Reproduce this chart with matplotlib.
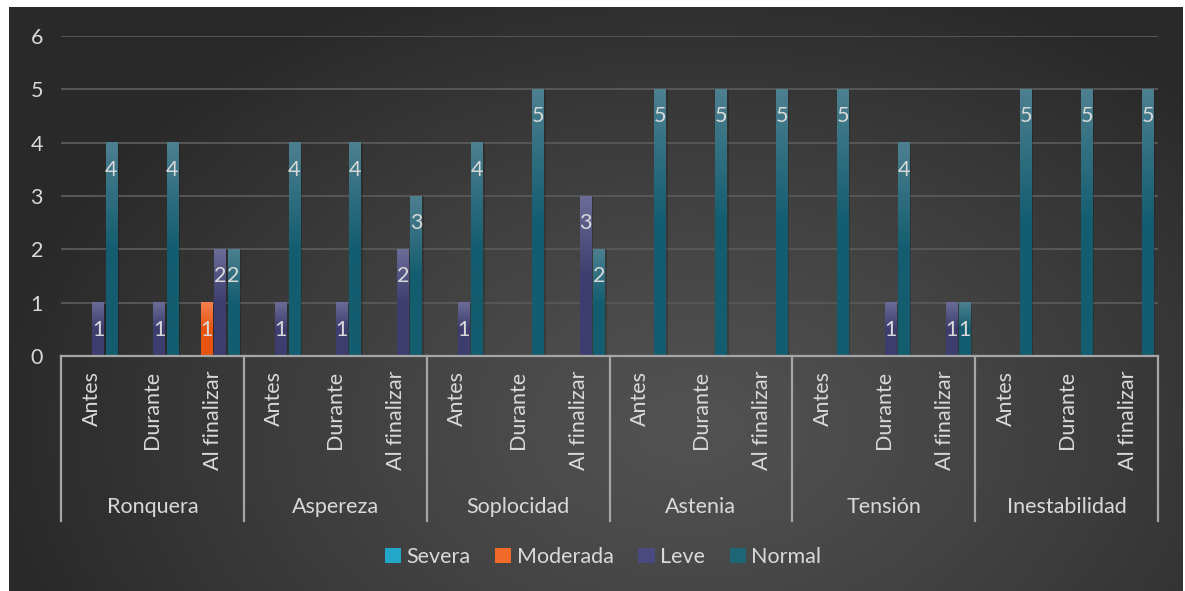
import numpy as np
import matplotlib
matplotlib.use("Agg")
import matplotlib.pyplot as plt
from matplotlib.colors import LinearSegmentedColormap, to_rgb
from matplotlib.patches import Rectangle, Patch
from matplotlib.transforms import blended_transform_factory

plt.rcParams['font.family'] = ['Lato', 'DejaVu Sans']

groups = ["Ronquera", "Aspereza", "Soplocidad", "Astenia", "Tensión", "Inestabilidad"]
moments = ["Antes", "Durante", "Al finalizar"]
series_names = ["Severa", "Moderada", "Leve", "Normal"]

severa   = [0, 0, 0,  0, 0, 0,  0, 0, 0,  0, 0, 0,  0, 0, 0,  0, 0, 0]
moderada = [0, 0, 1,  0, 0, 0,  0, 0, 0,  0, 0, 0,  0, 0, 0,  0, 0, 0]
leve     = [1, 1, 2,  1, 1, 2,  1, 0, 3,  0, 0, 0,  0, 1, 1,  0, 0, 0]
normal   = [4, 4, 2,  4, 4, 3,  4, 5, 2,  5, 5, 5,  5, 4, 1,  5, 5, 5]

series = [severa, moderada, leve, normal]
# (top colour, bottom colour) of each series' gradient fill
fills = [("#2cb3d6", "#1b93b5"),
         ("#f5804f", "#e65410"),
         ("#6c6c98", "#3d3d6f"),
         ("#4d8090", "#135d70")]
legend_colors = ["#22a6c9", "#f26a2a", "#4a4a80", "#1d6676"]

FS = 15.5

W, H = 1185, 591
fig = plt.figure(figsize=(W / 100, H / 100), dpi=100, facecolor="white")

# dark panel with a soft radial shading
bg = fig.add_axes([9 / W, 0, (1183 - 9) / W, (591 - 7) / H])
bg.set_axis_off()
yy, xx = np.mgrid[0:584, 0:1174]
cx, cy = 680, 420
r = np.sqrt(((xx - cx) / 700.0) ** 2 + ((yy - cy) / 480.0) ** 2)
t = np.clip(r, 0, 1) ** 1.2
c0, c1 = np.array(to_rgb("#525252")), np.array(to_rgb("#292929"))
img = c0[None, None, :] * (1 - t[..., None]) + c1[None, None, :] * t[..., None]
bg.imshow(img, aspect="auto", extent=[0, 1, 0, 1], origin="upper")
bg.set_xlim(0, 1)
bg.set_ylim(0, 1)

ax = fig.add_axes([61 / W, (H - 356) / H, (1158 - 61) / W, 320 / H])
ax.set_facecolor("none")
n = len(normal)
ax.set_xlim(-0.5, n - 0.5)
ax.set_ylim(0, 6)

txt = "#d9d9d9"
ax.set_yticks(range(0, 7))
ax.tick_params(axis="y", length=0, pad=13, labelsize=FS, labelcolor=txt)
ax.set_xticks([])
ax.yaxis.grid(True, color="#575757", lw=1.4)
ax.set_axisbelow(True)
for s in ["top", "right", "left"]:
    ax.spines[s].set_visible(False)
ax.spines["bottom"].set_color("#a6a6a6")
ax.spines["bottom"].set_linewidth(1.6)
ax.spines["bottom"].set_zorder(5)

step = 0.219
bw = 0.19
x = np.arange(n)
for k, (vals, (ctop, cbot)) in enumerate(zip(series, fills)):
    off = (k - 1.5) * step
    cmap = LinearSegmentedColormap.from_list(f"g{k}", [cbot, cbot, ctop])
    grad = np.linspace(0, 1, 256).reshape(-1, 1)
    bars = ax.bar(x + off, vals, width=bw, color="none", zorder=3)
    for b, v in zip(bars, vals):
        if v <= 0:
            continue
        x0, w = b.get_x(), b.get_width()
        # faint shadow to the right of the bar
        ax.add_patch(Rectangle((x0 + 0.03, 0), w, v, color="black", alpha=0.18,
                               lw=0, zorder=2))
        ax.imshow(grad, cmap=cmap, origin="lower", aspect="auto",
                  extent=[x0, x0 + w, 0, v], zorder=3, interpolation="bilinear")
        ax.annotate(str(v), (x0 + w / 2, v), xytext=(0, -27),
                    textcoords="offset pixels", ha="center", va="center",
                    fontsize=FS, color=txt, zorder=6)
ax.set_xlim(-0.5, n - 0.5)
ax.set_ylim(0, 6)

# two-level category axis
tr = blended_transform_factory(ax.transData, ax.transAxes)
line_bottom = (356 - 521) / 320
for g in range(len(groups) + 1):
    xb = g * 3 - 0.5
    ax.plot([xb, xb], [0, line_bottom], transform=tr, color="#a6a6a6", lw=1.6,
            clip_on=False, zorder=5)
for i in range(n):
    ax.text(i, (356 - 371) / 320, moments[i % 3], transform=tr, rotation=90,
            ha="center", va="top", fontsize=FS, color=txt)
for g, name in enumerate(groups):
    ax.text(g * 3 + 1, (356 - 507) / 320, name, transform=tr, ha="center",
            va="center", fontsize=FS, color=txt)

handles = [Patch(facecolor=c, edgecolor="none") for c in legend_colors]
fig.legend(handles, series_names, loc="center", bbox_to_anchor=(603 / W, (H - 557) / H),
           ncol=4, frameon=False, fontsize=FS, labelcolor=txt, handlelength=0.75,
           handleheight=0.75, handletextpad=0.25, columnspacing=1.15)

fig.savefig("out.png", dpi=100, facecolor="white")
